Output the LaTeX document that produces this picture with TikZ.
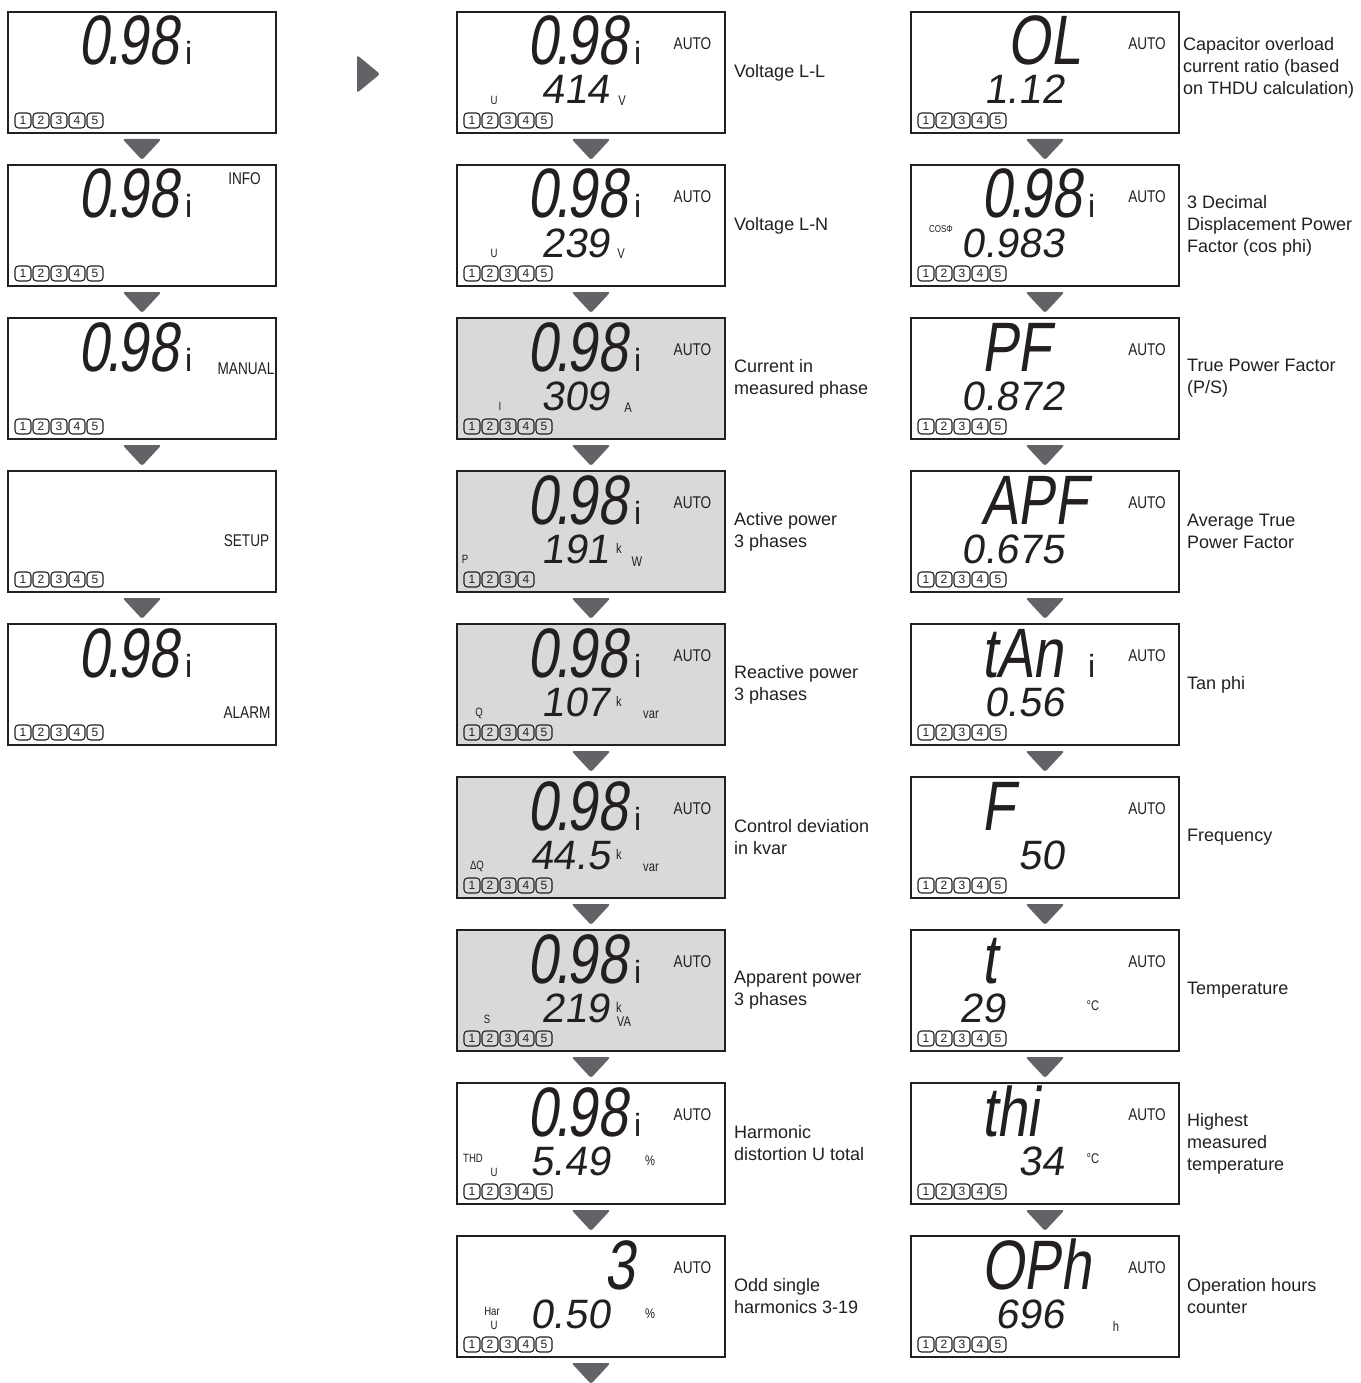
\documentclass[tikz,border=0pt]{standalone}
\usepackage{fontspec}
\setmainfont{Liberation Sans}
\newfontfamily\segfont[FakeSlant=0.15,FakeStretch=0.78]{Liberation Sans}
\newfontfamily\segfontb[FakeSlant=0.15]{Liberation Sans}
\newfontfamily\condfont[FakeStretch=0.8]{Liberation Sans}
\usetikzlibrary{calc,positioning}
\definecolor{ink}{HTML}{231F20}
\definecolor{lcd}{HTML}{D9D9D9}
\definecolor{arrowgray}{HTML}{616366}
\newcommand{\pt}{\kern-3pt.\kern-3pt}
\newcommand{\bubbles}[2]{\foreach \k in {1,...,#2}{\node[bubble] (#1b\k) at ({15+18*(\k-1)},108.5) {\k};}}
\newcommand{\downtri}[1]{\fill[tri] ([xshift=-19.5pt,yshift=-6pt]#1.south) -- ([xshift=19.5pt,yshift=-6pt]#1.south) -- ([yshift=-27pt]#1.south) -- cycle;}
\begin{document}
\begin{tikzpicture}[x=1pt,y=-1pt,
 panel/.style={draw=ink,line width=2pt,minimum width=268pt,minimum height=121pt,inner sep=0pt,outer sep=0pt,anchor=north west},
 big/.style={font=\segfont\fontsize{70}{70}\selectfont,text=ink,inner sep=0pt,text height=50pt,text depth=0pt,anchor=base west},
 ind/.style={font=\fontsize{32}{32}\selectfont,text=ink,inner sep=0pt,text height=23pt,text depth=0pt,anchor=base west},
 mid/.style={font=\segfontb\fontsize{41}{41}\selectfont,text=ink,inner sep=0pt,text height=29pt,text depth=0pt,anchor=base east},
 lab/.style={font=\condfont\fontsize{17}{17}\selectfont,text=ink,inner sep=0pt},
 unit/.style={font=\condfont\fontsize{14}{14}\selectfont,text=ink,inner sep=0pt},
 tiny/.style={font=\condfont\fontsize{12}{12}\selectfont,text=ink,inner sep=0pt},
 bubble/.style={draw=ink,line width=1.1pt,rounded corners=3.5pt,minimum width=16pt,minimum height=15pt,inner sep=0pt,font=\fontsize{12}{12}\selectfont,text=ink},
 desc/.style={font=\fontsize{18}{22}\selectfont,align=left,inner sep=0pt,text=ink,anchor=west},
 tri/.style={fill=arrowgray,rounded corners=2.5pt}]
\useasboundingbox (0,0) rectangle (1360,1383);

% ---------------- column 1 ----------------
\begin{scope}[shift={(8,12)}]
\node[panel,fill=white] (p11) at (0,0) {};
\node[big] (p11t) at (70,53) {0\pt98};
\node[ind] (p11i) at (177,53) {i};
\bubbles{p11}{5}
\end{scope}
\begin{scope}[shift={(8,165)}]
\node[panel,fill=white] (p12) at (0,0) {};
\node[big] (p12t) at (70,53) {0\pt98};
\node[ind] (p12i) at (177,53) {i};
\node[lab] (p12m) at (236.5,14) {INFO};
\bubbles{p12}{5}
\end{scope}
\begin{scope}[shift={(8,318)}]
\node[panel,fill=white] (p13) at (0,0) {};
\node[big] (p13t) at (70,53) {0\pt98};
\node[ind] (p13i) at (177,53) {i};
\node[lab] (p13m) at (238,51) {MANUAL};
\bubbles{p13}{5}
\end{scope}
\begin{scope}[shift={(8,471)}]
\node[panel,fill=white] (p14) at (0,0) {};
\node[lab] (p14m) at (238.5,70) {SETUP};
\bubbles{p14}{5}
\end{scope}
\begin{scope}[shift={(8,624)}]
\node[panel,fill=white] (p15) at (0,0) {};
\node[big] (p15t) at (70,53) {0\pt98};
\node[ind] (p15i) at (177,53) {i};
\node[lab] (p15m) at (239,89) {ALARM};
\bubbles{p15}{5}
\end{scope}

% ---------------- column 2 ----------------
\begin{scope}[shift={(457,12)}]
\node[panel,fill=white] (p21) at (0,0) {};
\node[big] (p21t) at (70,53) {0\pt98};
\node[ind] (p21i) at (177,53) {i};
\node[lab] (p21a) at (235.5,32) {AUTO};
\node[mid] (p21v) at (153,92) {414};
\node[unit] (p21u) at (165,89) {V};
\node[tiny] (p21q) at (37,88) {U};
\bubbles{p21}{5}
\end{scope}
\begin{scope}[shift={(457,165)}]
\node[panel,fill=white] (p22) at (0,0) {};
\node[big] (p22t) at (70,53) {0\pt98};
\node[ind] (p22i) at (177,53) {i};
\node[lab] (p22a) at (235.5,32) {AUTO};
\node[mid] (p22v) at (153,92) {239};
\node[unit] (p22u) at (164,89) {V};
\node[tiny] (p22q) at (37,88) {U};
\bubbles{p22}{5}
\end{scope}
\begin{scope}[shift={(457,318)}]
\node[panel,fill=lcd] (p23) at (0,0) {};
\node[big] (p23t) at (70,53) {0\pt98};
\node[ind] (p23i) at (177,53) {i};
\node[lab] (p23a) at (235.5,32) {AUTO};
\node[mid] (p23v) at (153,92) {309};
\node[unit] (p23u) at (171,90) {A};
\node[tiny] (p23q) at (43,88) {I};
\bubbles{p23}{5}
\end{scope}
\begin{scope}[shift={(457,471)}]
\node[panel,fill=lcd] (p24) at (0,0) {};
\node[big] (p24t) at (70,53) {0\pt98};
\node[ind] (p24i) at (177,53) {i};
\node[lab] (p24a) at (235.5,32) {AUTO};
\node[mid] (p24v) at (153,92) {191};
\node[unit] (p24k) at (162,77) {k};
\node[unit] (p24u) at (180,91) {W};
\node[tiny] (p24q) at (8,88) {P};
\bubbles{p24}{4}
\end{scope}
\begin{scope}[shift={(457,624)}]
\node[panel,fill=lcd] (p25) at (0,0) {};
\node[big] (p25t) at (70,53) {0\pt98};
\node[ind] (p25i) at (177,53) {i};
\node[lab] (p25a) at (235.5,32) {AUTO};
\node[mid] (p25v) at (153,92) {107};
\node[unit] (p25k) at (162,77) {k};
\node[unit] (p25u) at (194,91) {var};
\node[tiny] (p25q) at (22,89) {Q};
\bubbles{p25}{5}
\end{scope}
\begin{scope}[shift={(457,777)}]
\node[panel,fill=lcd] (p26) at (0,0) {};
\node[big] (p26t) at (70,53) {0\pt98};
\node[ind] (p26i) at (177,53) {i};
\node[lab] (p26a) at (235.5,32) {AUTO};
\node[mid] (p26v) at (153,92) {44.5};
\node[unit] (p26k) at (162,77) {k};
\node[unit] (p26u) at (194,91) {var};
\node[tiny] (p26q) at (20,89) {ΔQ};
\bubbles{p26}{5}
\end{scope}
\begin{scope}[shift={(457,930)}]
\node[panel,fill=lcd] (p27) at (0,0) {};
\node[big] (p27t) at (70,53) {0\pt98};
\node[ind] (p27i) at (177,53) {i};
\node[lab] (p27a) at (235.5,32) {AUTO};
\node[mid] (p27v) at (153,92) {219};
\node[unit] (p27k) at (162,77) {k};
\node[unit] (p27u) at (167,92) {VA};
\node[tiny] (p27q) at (30,89) {S};
\bubbles{p27}{5}
\end{scope}
\begin{scope}[shift={(457,1083)}]
\node[panel,fill=white] (p28) at (0,0) {};
\node[big] (p28t) at (70,53) {0\pt98};
\node[ind] (p28i) at (177,53) {i};
\node[lab] (p28a) at (235.5,32) {AUTO};
\node[mid] (p28v) at (153,92) {5.49};
\node[unit] (p28u) at (193,78) {\%};
\node[tiny] (p28q) at (16,75) {THD};
\node[tiny] (p28r) at (37,89) {U};
\bubbles{p28}{5}
\end{scope}
\begin{scope}[shift={(457,1236)}]
\node[panel,fill=white] (p29) at (0,0) {};
\node[big] (p29t) at (147,53) {3};
\node[lab] (p29a) at (235.5,32) {AUTO};
\node[mid] (p29v) at (153,92) {0.50};
\node[unit] (p29u) at (193,78) {\%};
\node[tiny] (p29q) at (35,75) {Har};
\node[tiny] (p29r) at (37,89) {U};
\bubbles{p29}{5}
\end{scope}

% ---------------- column 3 ----------------
\begin{scope}[shift={(911,12)}]
\node[panel,fill=white] (p31) at (0,0) {};
\node[big,anchor=base east] (p31t) at (170,53) {OL};
\node[lab] (p31a) at (236,32) {AUTO};
\node[mid] (p31v) at (153,92) {1.12};
\bubbles{p31}{5}
\end{scope}
\begin{scope}[shift={(911,165)}]
\node[panel,fill=white] (p32) at (0,0) {};
\node[big] (p32t) at (70,53) {0\pt98};
\node[ind] (p32i) at (177,53) {i};
\node[lab] (p32a) at (236,32) {AUTO};
\node[mid] (p32v) at (153,92) {0.983};
\node[tiny,font=\condfont\fontsize{10}{10}\selectfont] (p32q) at (30,64) {COSΦ};
\bubbles{p32}{5}
\end{scope}
\begin{scope}[shift={(911,318)}]
\node[panel,fill=white] (p33) at (0,0) {};
\node[big] (p33t) at (70,53) {PF};
\node[lab] (p33a) at (236,32) {AUTO};
\node[mid] (p33v) at (153,92) {0.872};
\bubbles{p33}{5}
\end{scope}
\begin{scope}[shift={(911,471)}]
\node[panel,fill=white] (p34) at (0,0) {};
\node[big] (p34t) at (70,53) {APF};
\node[lab] (p34a) at (236,32) {AUTO};
\node[mid] (p34v) at (153,92) {0.675};
\bubbles{p34}{5}
\end{scope}
\begin{scope}[shift={(911,624)}]
\node[panel,fill=white] (p35) at (0,0) {};
\node[big] (p35t) at (70,53) {tAn};
\node[ind] (p35i) at (177,53) {i};
\node[lab] (p35a) at (236,32) {AUTO};
\node[mid] (p35v) at (153,92) {0.56};
\bubbles{p35}{5}
\end{scope}
\begin{scope}[shift={(911,777)}]
\node[panel,fill=white] (p36) at (0,0) {};
\node[big] (p36t) at (70,53) {F};
\node[lab] (p36a) at (236,32) {AUTO};
\node[mid] (p36v) at (153,92) {50};
\bubbles{p36}{5}
\end{scope}
\begin{scope}[shift={(911,930)}]
\node[panel,fill=white] (p37) at (0,0) {};
\node[big] (p37t) at (70,53) {t};
\node[lab] (p37a) at (236,32) {AUTO};
\node[mid,anchor=base west] (p37v) at (48,92) {29};
\node[unit] (p37u) at (182,76) {°C};
\bubbles{p37}{5}
\end{scope}
\begin{scope}[shift={(911,1083)}]
\node[panel,fill=white] (p38) at (0,0) {};
\node[big] (p38t) at (70,53) {thi};
\node[lab] (p38a) at (236,32) {AUTO};
\node[mid] (p38v) at (153,92) {34};
\node[unit] (p38u) at (182,76) {°C};
\bubbles{p38}{5}
\end{scope}
\begin{scope}[shift={(911,1236)}]
\node[panel,fill=white] (p39) at (0,0) {};
\node[big] (p39t) at (70,53) {OPh};
\node[lab] (p39a) at (236,32) {AUTO};
\node[mid] (p39v) at (153,92) {696};
\node[unit] (p39u) at (205,90) {h};
\bubbles{p39}{5}
\end{scope}

% ---------------- descriptions ----------------
\node[desc,right=9pt of p21] (d21) {Voltage L-L};
\node[desc,right=9pt of p22] (d22) {Voltage L-N};
\node[desc,right=9pt of p23] (d23) {Current in\\measured phase};
\node[desc,right=9pt of p24] (d24) {Active power\\3 phases};
\node[desc,right=9pt of p25] (d25) {Reactive power\\3 phases};
\node[desc,right=9pt of p26] (d26) {Control deviation\\in kvar};
\node[desc,right=9pt of p27] (d27) {Apparent power\\3 phases};
\node[desc,right=9pt of p28] (d28) {Harmonic\\distortion U total};
\node[desc,right=9pt of p29] (d29) {Odd single\\harmonics 3-19};
\node[desc] (d31) at ([xshift=4pt,yshift=5pt]p31.east) {Capacitor overload\\current ratio (based\\on THDU calculation)};
\node[desc,right=8pt of p32] (d32) {3 Decimal\\Displacement Power\\Factor (cos phi)};
\node[desc,right=8pt of p33] (d33) {True Power Factor\\(P/S)};
\node[desc,right=8pt of p34] (d34) {Average True\\Power Factor};
\node[desc,right=8pt of p35] (d35) {Tan phi};
\node[desc,right=8pt of p36] (d36) {Frequency};
\node[desc,right=8pt of p37] (d37) {Temperature};
\node[desc,right=8pt of p38] (d38) {Highest\\measured\\temperature};
\node[desc,right=8pt of p39] (d39) {Operation hours\\counter};

% ---------------- arrows ----------------
\foreach \p in {p11,p12,p13,p14,p21,p22,p23,p24,p25,p26,p27,p28,p29,p31,p32,p33,p34,p35,p36,p37,p38}{\downtri{\p}}
\fill[tri] (357,55) -- (380,74) -- (357,93) -- cycle;
\end{tikzpicture}
\end{document}
